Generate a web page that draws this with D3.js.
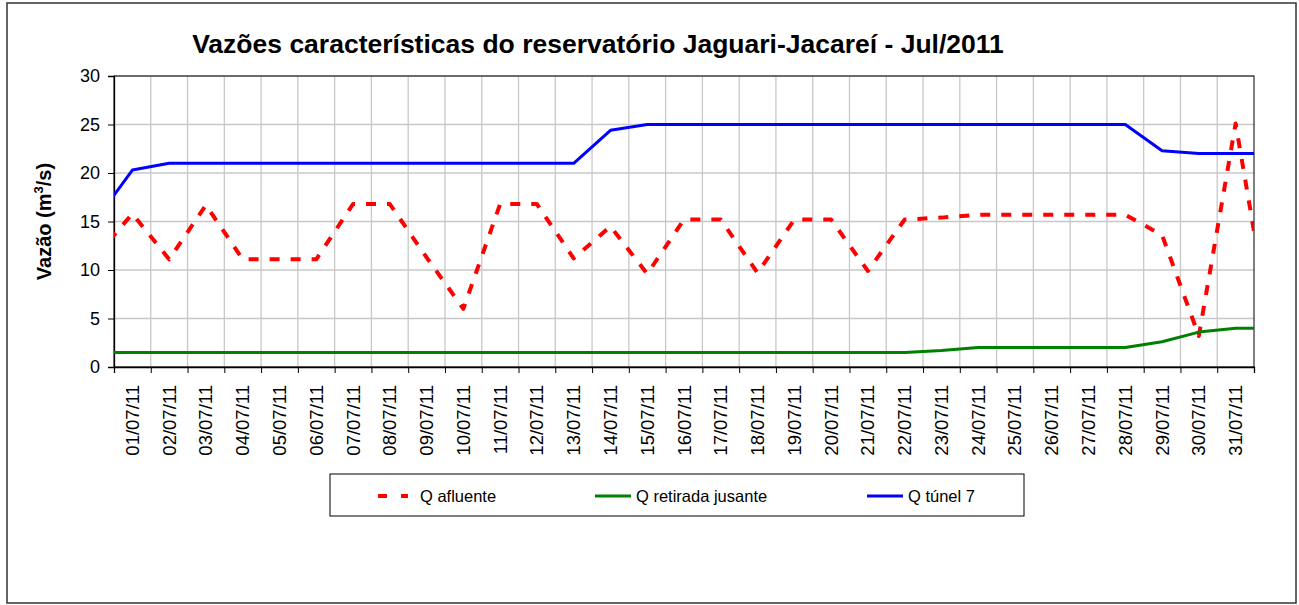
<!DOCTYPE html>
<html>
<head>
<meta charset="utf-8">
<script src="https://cdn.jsdelivr.net/npm/d3@7"></script>
<style>
  body { margin: 0; background: #fff; }
  svg { font-family: "Liberation Sans", Arial, sans-serif; }
</style>
</head>
<body>
<div class="chart_container"></div>
<script>
// categories (one per day of Jul/2011)
const days = ['01/07/11', '02/07/11', '03/07/11', '04/07/11', '05/07/11', '06/07/11', '07/07/11', '08/07/11',
  '09/07/11', '10/07/11', '11/07/11', '12/07/11', '13/07/11', '14/07/11', '15/07/11', '16/07/11',
  '17/07/11', '18/07/11', '19/07/11', '20/07/11', '21/07/11', '22/07/11', '23/07/11', '24/07/11',
  '25/07/11', '26/07/11', '27/07/11', '28/07/11', '29/07/11', '30/07/11', '31/07/11'];

// series values (m3/s)
const qAfluente = [15.8, 11.1, 16.7, 11.1, 11.1, 11.1, 16.8, 16.8, 11.3, 6.0, 16.8, 16.8, 11.2, 14.5, 9.6, 15.2,
  15.2, 9.7, 15.2, 15.2, 9.9, 15.2, 15.4, 15.7, 15.7, 15.7, 15.7, 15.7, 13.6, 3.2, 25.1];
const qRetirada = [1.5, 1.5, 1.5, 1.5, 1.5, 1.5, 1.5, 1.5, 1.5, 1.5, 1.5, 1.5, 1.5, 1.5, 1.5, 1.5,
  1.5, 1.5, 1.5, 1.5, 1.5, 1.5, 1.7, 2.0, 2.0, 2.0, 2.0, 2.0, 2.6, 3.6, 4.0];
const qTunel = [20.3, 21, 21, 21, 21, 21, 21, 21, 21, 21, 21, 21, 21, 24.4, 25, 25,
  25, 25, 25, 25, 25, 25, 25, 25, 25, 25, 25, 25, 22.3, 22.0, 22.0];

// values of the days just outside the month (30/06 and 01/08), cut off at the plot edges
const edgeAfluente = [11.4, 2.9];
const edgeRetirada = [1.5, 4.0];
const edgeTunel = [15.1, 22.0];

const yTicks = [0, 5, 10, 15, 20, 25, 30];

const series = [
  { name: 'Q afluente', values: qAfluente, edges: edgeAfluente, color: '#ff0000', dash: '10,11', width: 4 },
  { name: 'Q retirada jusante', values: qRetirada, edges: edgeRetirada, color: '#008000', dash: null, width: 3 },
  { name: 'Q túnel 7', values: qTunel, edges: edgeTunel, color: '#0000ff', dash: null, width: 3 },
];

const W = 1299, H = 605;
const plotLeft = 114, plotRight = 1254, plotTop = 76, plotBottom = 367;

function drawChart() {
  const container = document.querySelector('div.chart_container');
  container.innerHTML = `<svg id="svgCont" width=${W} height=${H}></svg>`;
  const svg = d3.select(container).select('#svgCont');

  // outer frame
  svg.append('rect')
    .attr('x', 7).attr('y', 3).attr('width', 1289).attr('height', 600)
    .attr('fill', '#fff').attr('stroke', '#333').attr('stroke-width', 1.5);

  const xBand = d3.scaleBand().domain(days).range([plotLeft, plotRight]);
  const xPos = d3.scaleLinear().domain([0, days.length]).range([plotLeft, plotRight]);
  const y = d3.scaleLinear().domain([0, 30]).range([plotBottom, plotTop]);

  // grid
  svg.append('g').selectAll('line')
    .data(yTicks).enter().append('line')
    .attr('x1', plotLeft).attr('x2', plotRight)
    .attr('y1', d => y(d)).attr('y2', d => y(d))
    .attr('stroke', '#c8c8c8').attr('stroke-width', 1.3);
  svg.append('g').selectAll('line')
    .data(d3.range(1, days.length)).enter().append('line')
    .attr('x1', d => xPos(d)).attr('x2', d => xPos(d))
    .attr('y1', plotTop).attr('y2', plotBottom)
    .attr('stroke', '#c8c8c8').attr('stroke-width', 1.3);

  // plot border
  svg.append('rect')
    .attr('x', plotLeft).attr('y', plotTop).attr('width', plotRight - plotLeft).attr('height', plotBottom - plotTop)
    .attr('fill', 'none').attr('stroke', '#000').attr('stroke-width', 1);

  // y axis
  const yAxis = svg.append('g')
    .attr('transform', `translate(${plotLeft},0)`)
    .call(d3.axisLeft(y).tickValues(yTicks).tickSize(6).tickPadding(8));
  yAxis.select('.domain').attr('stroke', '#000').attr('stroke-width', 1.3);
  yAxis.selectAll('.tick line').attr('stroke', '#000');
  yAxis.selectAll('text').attr('font-size', 18).attr('fill', '#000')
    .attr('font-family', '"Liberation Sans", Arial, sans-serif');

  // x axis: ticks on band edges, labels in band centres
  const xAxis = svg.append('g')
    .attr('transform', `translate(0,${plotBottom})`)
    .call(d3.axisBottom(xPos).tickValues(d3.range(0, days.length + 1)).tickSize(6).tickFormat(''));
  xAxis.select('.domain').attr('stroke', '#000').attr('stroke-width', 1.3);
  xAxis.selectAll('.tick line').attr('stroke', '#000');

  svg.append('g').selectAll('text')
    .data(days).enter().append('text')
    .attr('transform', d => `translate(${xBand(d) + xBand.bandwidth() / 2 + 6.5},${plotBottom + 18}) rotate(-90)`)
    .attr('text-anchor', 'end')
    .attr('font-size', 18.5)
    .text(d => d);

  // lines
  svg.append('clipPath').attr('id', 'plotClip')
    .append('rect').attr('x', plotLeft).attr('y', plotTop - 5)
    .attr('width', plotRight - plotLeft).attr('height', plotBottom - plotTop + 10);

  const line = d3.line().x(d => xPos(d[0])).y(d => y(d[1]));
  const lines = svg.append('g').attr('clip-path', 'url(#plotClip)');
  series.forEach(s => {
    const pts = [[-0.5, s.edges[0]]]
      .concat(s.values.map((v, i) => [i + 0.5, v]))
      .concat([[days.length + 0.5, s.edges[1]]]);
    lines.append('path')
      .attr('d', line(pts))
      .attr('fill', 'none')
      .attr('stroke', s.color)
      .attr('stroke-width', s.width)
      .attr('stroke-dasharray', s.dash)
      .attr('stroke-linejoin', 'round');
  });

  // title
  svg.append('text')
    .attr('x', 598).attr('y', 53)
    .attr('text-anchor', 'middle')
    .attr('font-size', 26.5).attr('font-weight', 'bold')
    .text('Vazões características do reservatório Jaguari-Jacareí - Jul/2011');

  // y title
  const yt = svg.append('text')
    .attr('transform', `translate(51,${(plotTop + plotBottom) / 2}) rotate(-90)`)
    .attr('text-anchor', 'middle')
    .attr('font-size', 20).attr('font-weight', 'bold');
  yt.append('tspan').text('Vazão (m');
  yt.append('tspan').attr('font-size', 13).attr('dy', -8).text('3');
  yt.append('tspan').attr('dy', 8).text('/s)');

  // legend
  const lg = svg.append('g');
  lg.append('rect')
    .attr('x', 330).attr('y', 474).attr('width', 694).attr('height', 42)
    .attr('fill', '#fff').attr('stroke', '#000').attr('stroke-width', 1);
  const legendX = [378, 595, 867];
  series.forEach((s, i) => {
    lg.append('line')
      .attr('x1', legendX[i]).attr('x2', legendX[i] + (s.dash ? 30 : 36))
      .attr('y1', 496).attr('y2', 496)
      .attr('stroke', s.color).attr('stroke-width', s.width)
      .attr('stroke-dasharray', s.dash ? '9,14' : null);
    lg.append('text')
      .attr('x', legendX[i] + (s.dash ? 42 : 41)).attr('y', 502)
      .attr('font-size', 16.5)
      .text(s.name);
  });
}

drawChart();
</script>
</body>
</html>
